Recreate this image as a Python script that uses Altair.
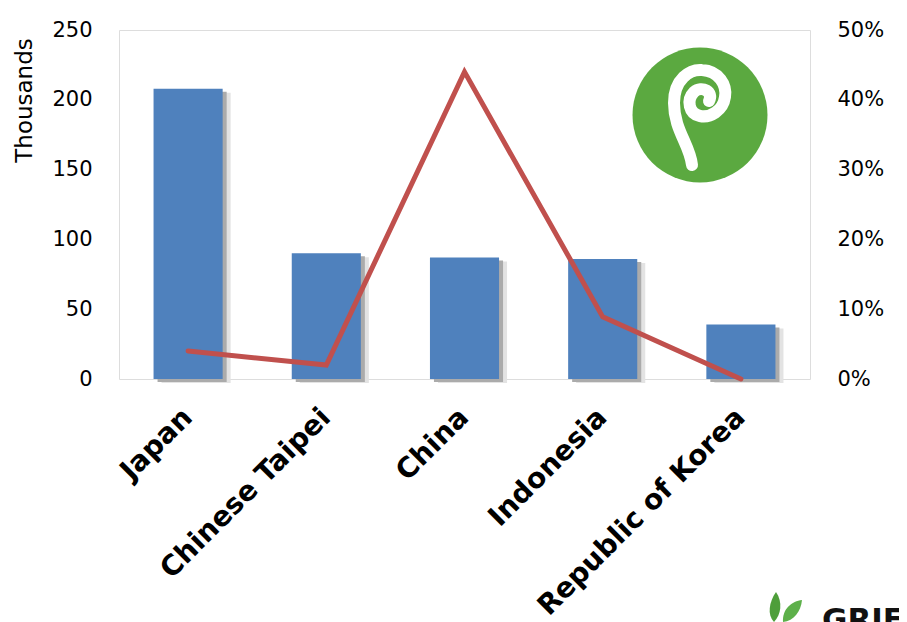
import altair as alt
import pandas as pd

countries = ["Japan", "Chinese Taipei", "China", "Indonesia", "Republic of Korea"]
thousands = [208, 90, 87, 86, 39]
share_pct = [4.0, 2.0, 44.0, 8.9, 0.0]
left_ticks = [0, 50, 100, 150, 200, 250]
right_ticks = [0.0, 0.1, 0.2, 0.3, 0.4, 0.5]

df = pd.DataFrame({
    "country": countries,
    "thousands": thousands,
    "share": [v / 100 for v in share_pct],
})
one = pd.DataFrame({"k": [0]})

W, H = 691, 349
FONT = "DejaVu Sans"

x_enc = alt.X(
    "country:N", sort=countries,
    scale=alt.Scale(paddingInner=0.5, paddingOuter=0.25),
    axis=alt.Axis(title=None, labelAngle=-45, labelAlign="right", labelBaseline="middle",
                  labelFont=FONT, labelFontWeight="bold", labelFontSize=28, labelColor="#000",
                  labelPadding=34, ticks=False, domain=False, labelLimit=400),
)
left_axis = alt.Axis(values=left_ticks, title="Thousands", titleFont=FONT, titleFontSize=23,
                     titleFontWeight="normal", titleColor="#000", titleAngle=-90,
                     titleX=-95, titleY=70, titleAlign="center", titleBaseline="middle",
                     labelFont=FONT, labelFontSize=21, labelColor="#000", labelPadding=27,
                     ticks=False, domain=False, grid=False)
y_left = alt.Y("thousands:Q", scale=alt.Scale(domain=[0, 250], nice=False), axis=left_axis)

shadow1 = alt.Chart(df).mark_bar(color="#e3e3e3", xOffset=8, yOffset=4).encode(x=x_enc, y=y_left)
shadow2 = alt.Chart(df).mark_bar(color="#ababab", xOffset=4, yOffset=3).encode(x=x_enc, y=y_left)
bars = alt.Chart(df).mark_bar(color="#4F81BD").encode(x=x_enc, y=y_left)
bar_layer = alt.layer(shadow1, shadow2, bars)

line = alt.Chart(df).mark_line(color="#C0504D", strokeWidth=5, strokeCap="round").encode(
    x=x_enc,
    y=alt.Y("share:Q", scale=alt.Scale(domain=[0, 0.5], nice=False),
            axis=alt.Axis(orient="right", values=right_ticks, format=".0%", title=None,
                          labelFont=FONT, labelFontSize=21, labelColor="#000", labelPadding=27,
                          ticks=False, domain=False, grid=False)),
)

# decorative logos
logo_circle = alt.Chart(one).mark_circle(color="#5BA940", opacity=1, size=18225).encode(
    x=alt.value(581), y=alt.value(85))
spiral_path = ("M -0.16 1 C -0.2 0.6 -0.52 0.3 -0.52 -0.24 C -0.52 -0.72 -0.2 -0.92 0.04 -0.9 "
               "C 0.38 -0.88 0.54 -0.6 0.5 -0.36 C 0.46 -0.08 0.2 0.06 0 0.02 "
               "C -0.22 -0.02 -0.28 -0.3 -0.12 -0.46 C 0.04 -0.6 0.28 -0.46 0.18 -0.28")
logo_spiral = alt.Chart(one).mark_point(shape=spiral_path, filled=False, stroke="white",
                                        strokeWidth=12, strokeCap="round", opacity=1,
                                        size=10000).encode(x=alt.value(581), y=alt.value(85))
leaf1 = alt.Chart(one).mark_point(
    shape="M 0.1 -0.75 C 0.45 -0.25 0.35 0.4 0 0.75 C -0.35 0.4 -0.25 -0.25 0.1 -0.75 Z",
    filled=True, color="#4E9E3A", opacity=1, size=1600).encode(x=alt.value(655), y=alt.value(577))
leaf2 = alt.Chart(one).mark_point(
    shape="M -0.45 0.55 C -0.5 -0.1 0 -0.5 0.5 -0.55 C 0.45 0 0.1 0.5 -0.45 0.55 Z",
    filled=True, color="#5DB04A", opacity=1, size=1600).encode(x=alt.value(673), y=alt.value(581))
grif = alt.Chart(one).mark_text(text="GRIF", font=FONT, fontWeight="bold", fontSize=31,
                                align="left", baseline="alphabetic", color="#111").encode(
    x=alt.value(703), y=alt.value(600))

chart = alt.layer(bar_layer, line, logo_circle, logo_spiral, leaf1, leaf2, grif).resolve_scale(
    y="independent"
).properties(
    width=W, height=H, autosize="none",
    padding={"left": 111, "top": 22, "right": 89, "bottom": 243},
).configure_view(stroke="#c6c6c6", strokeWidth=1.5).configure(font=FONT, background="white")

chart.save("out.html", embed_options={"renderer": "svg", "actions": False})
